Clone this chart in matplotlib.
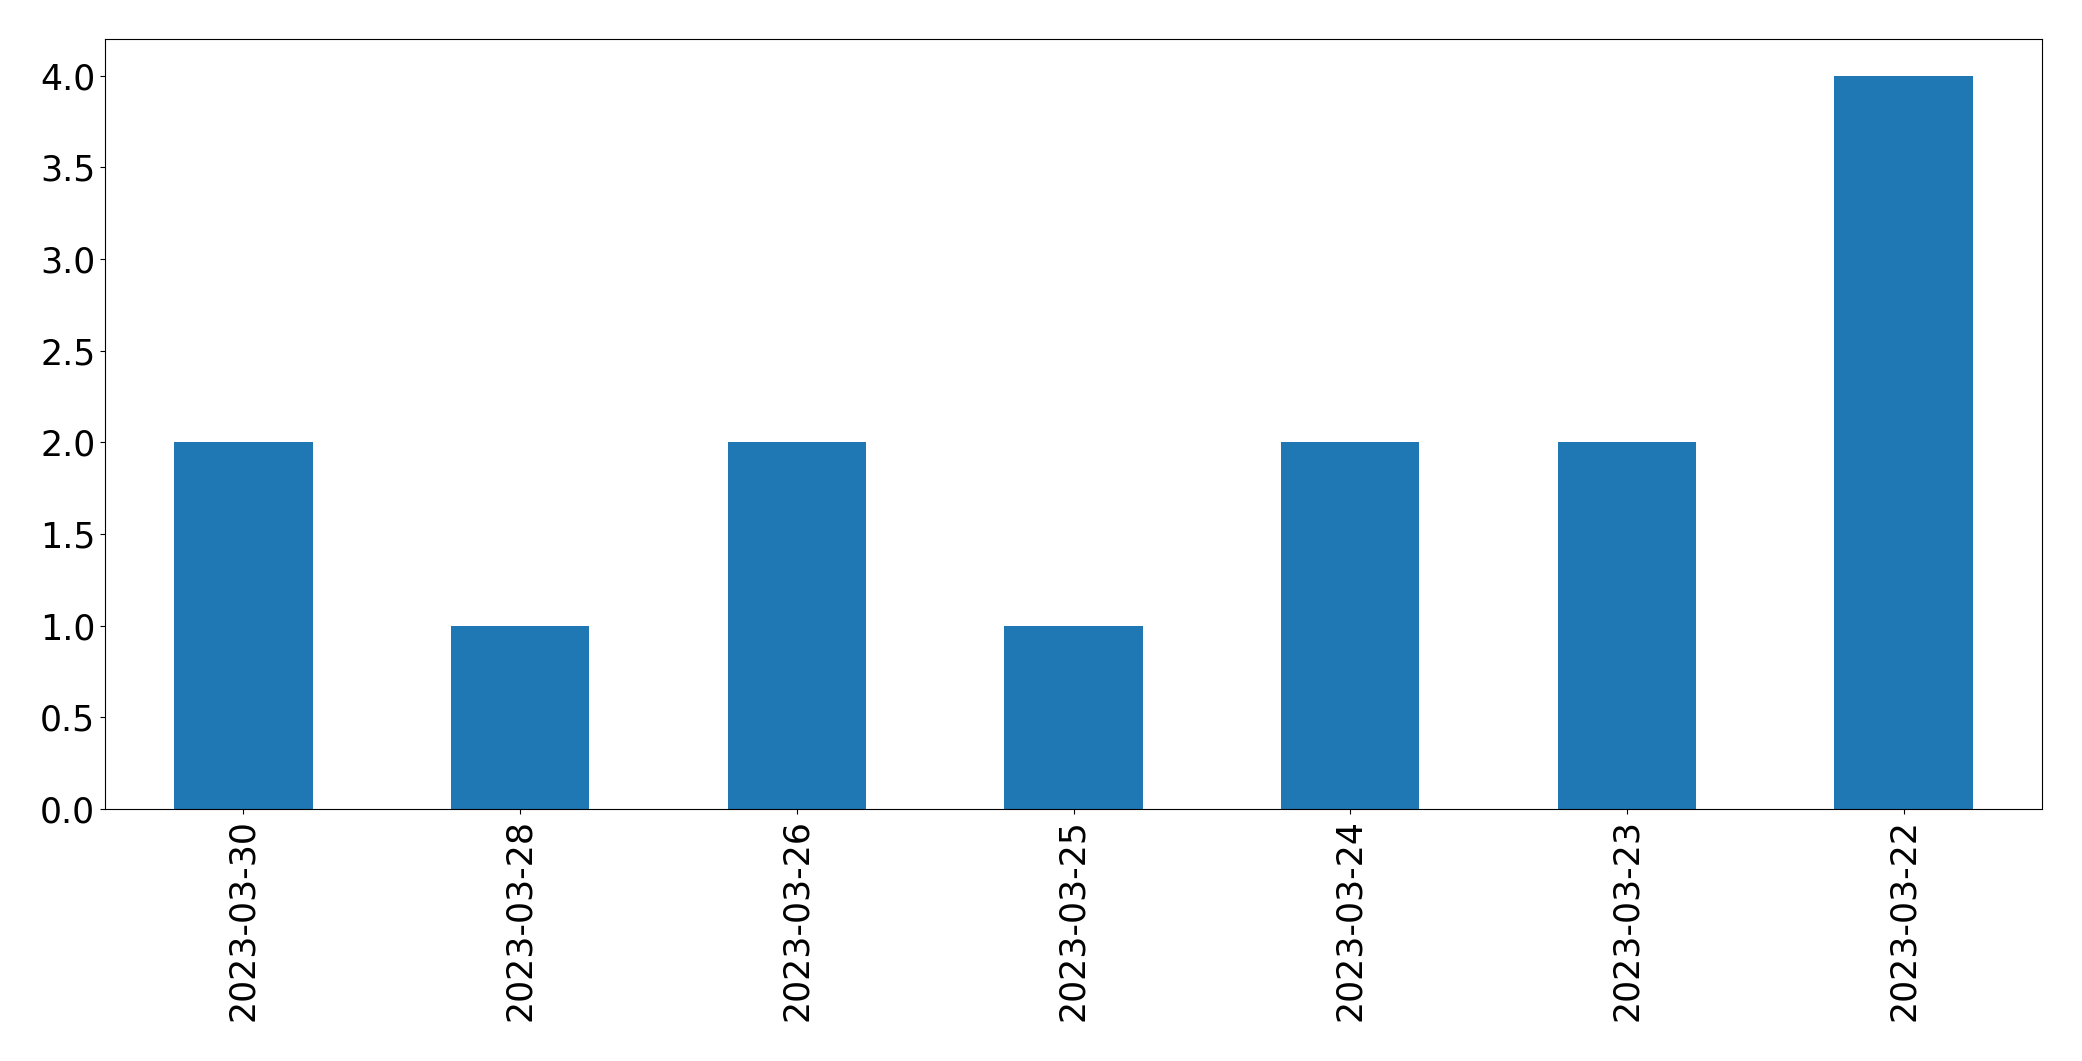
import matplotlib
matplotlib.use('Agg')
import matplotlib.pyplot as plt

# Counts per date
dates = ['2023-03-30', '2023-03-28', '2023-03-26', '2023-03-25',
         '2023-03-24', '2023-03-23', '2023-03-22']
counts = [2, 1, 2, 1, 2, 2, 4]

fig = plt.figure(figsize=(20.82, 10.61), dpi=100)
ax = fig.add_axes([105 / 2082, 1 - 809 / 1061, (2042 - 105) / 2082, (809 - 39) / 1061])

x = list(range(len(dates)))
ax.bar(x, counts, width=0.5, color='#1f77b4')
ax.set_xlim(-0.5, len(dates) - 0.5)
ax.set_ylim(0, 4.2)
ax.set_xticks(x)
ax.set_xticklabels(dates, rotation=90)
ax.tick_params(labelsize=25)

fig.savefig('out.png', dpi=100)
